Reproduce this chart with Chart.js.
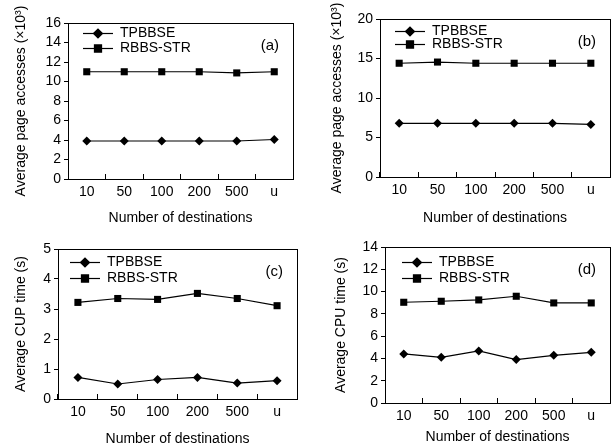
<!DOCTYPE html>
<html>
<head>
<meta charset="utf-8">
<script src="https://cdn.jsdelivr.net/npm/chart.js@4.4.0/dist/chart.umd.min.js"></script>
<style>
  body { margin: 0; background: #fff; }
  #fig { position: relative; width: 615px; height: 448px; }
  #fig canvas { position: absolute; }
</style>
</head>
<body>
<div id="fig">
  <canvas id="chartA" width="307" height="224" style="left:0;top:0"></canvas>
  <canvas id="chartB" width="308" height="224" style="left:307px;top:0"></canvas>
  <canvas id="chartC" width="307" height="224" style="left:0;top:224px"></canvas>
  <canvas id="chartD" width="308" height="224" style="left:307px;top:224px"></canvas>
</div>
<script>
// x categories shared by all four panels
const destinations = ["10", "50", "100", "200", "500", "u"];
const seriesNames = ["TPBBSE", "RBBS-STR"];

// (a) page accesses, x10^3
const pagesTpbbseA = [3.9, 3.9, 3.9, 3.9, 3.9, 4.05];
const pagesRbbsA = [11.0, 11.0, 11.0, 11.0, 10.88, 11.0];
// (b) page accesses, x10^3
const pagesTpbbseB = [6.8, 6.8, 6.8, 6.8, 6.8, 6.65];
const pagesRbbsB = [14.4, 14.55, 14.4, 14.4, 14.4, 14.4];
// (c) CPU time, seconds
const cpuTpbbseC = [0.72, 0.5, 0.65, 0.72, 0.53, 0.61];
const cpuRbbsC = [3.22, 3.35, 3.32, 3.52, 3.35, 3.11];
// (d) CPU time, seconds
const cpuTpbbseD = [4.4, 4.1, 4.67, 3.9, 4.28, 4.55];
const cpuRbbsD = [9.04, 9.13, 9.25, 9.58, 8.98, 8.98];

// y axis ranges: [max, step]
const yRangeA = [16, 2];
const yRangeB = [20, 5];
const yRangeC = [5, 1];
const yRangeD = [14, 2];

const FONT = 'Arial, "Liberation Sans", sans-serif';

// box around the plot, legend inside top-left, panel tag top-right
const framePlugin = {
  id: "framePlugin",
  afterDraw(chart, args, opts) {
    const { ctx, chartArea: a } = chart;
    ctx.save();
    ctx.strokeStyle = "#000";
    ctx.lineWidth = 1;
    const l = Math.round(a.left) + 0.5, t = Math.round(a.top) + 0.5;
    ctx.strokeRect(l, t, Math.round(a.right) - Math.round(a.left), Math.round(a.bottom) - Math.round(a.top));

    ctx.font = "14px " + FONT;
    ctx.textBaseline = "middle";
    ctx.textAlign = "left";
    chart.data.datasets.forEach((ds, i) => {
      const x0 = a.left + opts.legendX;
      const y = Math.round(a.top + opts.legendY + i * opts.legendGap) + 0.5;
      ctx.strokeStyle = "#000";
      ctx.lineWidth = 1.2;
      ctx.beginPath();
      ctx.moveTo(x0, y);
      ctx.lineTo(x0 + 30, y);
      ctx.stroke();
      ctx.fillStyle = "#000";
      Chart.helpers.drawPoint(ctx, { pointStyle: ds.pointStyle, radius: ds.pointRadius, rotation: 0, borderWidth: 1 }, x0 + 15, y);
      ctx.fillStyle = "#000";
      ctx.fillText(ds.label, x0 + 37, y);
    });

    ctx.font = "15px " + FONT;
    ctx.textAlign = "right";
    ctx.fillText(opts.tag, a.right - 14, a.top + 23);
    ctx.restore();
  }
};

function makeChart(id, tpbbse, rbbs, yRange, yTitle, box, tag) {
  const [W, H] = [document.getElementById(id).width, 224];
  return new Chart(document.getElementById(id), {
    type: "line",
    data: {
      labels: destinations,
      datasets: [
        { label: seriesNames[0], data: tpbbse, pointStyle: "rectRot", pointRadius: 4.5 },
        { label: seriesNames[1], data: rbbs, pointStyle: "rect", pointRadius: 5 }
      ].map(d => Object.assign(d, {
        borderColor: "#000", backgroundColor: "#000", borderWidth: 1.2,
        pointBackgroundColor: "#000", pointBorderColor: "#000", pointBorderWidth: 0, tension: 0
      }))
    },
    options: {
      responsive: false,
      animation: false,
      layout: { padding: { left: 0, top: box.T, right: W - box.R, bottom: 0 } },
      plugins: {
        legend: { display: false },
        tooltip: { enabled: false },
        framePlugin: { tag: tag, legendX: box.lx, legendY: box.ly, legendGap: box.lg }
      },
      scales: {
        x: {
          offset: true,
          grid: { offset: true, drawOnChartArea: false, tickLength: -5, color: "#000" },
          border: { display: true, color: "#000" },
          ticks: { color: "#000", padding: 10, autoSkip: false, font: { family: FONT, size: 14 } },
          title: { display: true, text: "Number of destinations", color: "#000", padding: { top: 0, bottom: box.xt }, font: { family: FONT, size: 14 } },
          afterFit: s => { s.height = H - box.B; }
        },
        y: {
          min: 0,
          max: yRange[0],
          grid: { drawOnChartArea: false, tickLength: 4, color: "#000" },
          border: { display: true, color: "#000" },
          ticks: { stepSize: yRange[1], autoSkip: false, color: "#000", padding: 3, font: { family: FONT, size: 14 } },
          title: { display: true, text: yTitle, color: "#000", padding: { top: box.yt, bottom: 0 }, font: { family: FONT, size: 14 } },
          afterFit: s => { s.width = box.L; }
        }
      }
    },
    plugins: [framePlugin]
  });
}

const pagesTitle = "Average page accesses (\u00d710\u00b3)";
makeChart("chartA", pagesTpbbseA, pagesRbbsA, yRangeA, pagesTitle,
  { L: 68, T: 23, R: 293, B: 179, xt: -3, yt: 13, lx: 15, ly: 10, lg: 15 }, "(a)");
makeChart("chartB", pagesTpbbseB, pagesRbbsB, yRangeB, pagesTitle,
  { L: 73, T: 19, R: 303, B: 177, xt: -3, yt: 22, lx: 15, ly: 12, lg: 13 }, "(b)");
makeChart("chartC", cpuTpbbseC, cpuRbbsC, yRangeC, "Average CUP time (s)",
  { L: 58, T: 25, R: 297, B: 175, xt: 0, yt: 13, lx: 12, ly: 13, lg: 16 }, "(c)");
makeChart("chartD", cpuTpbbseD, cpuRbbsD, yRangeD, "Average CPU time (s)",
  { L: 78, T: 23, R: 304, B: 179, xt: 2, yt: 26, lx: 17, ly: 15, lg: 16 }, "(d)");
</script>
</body>
</html>
